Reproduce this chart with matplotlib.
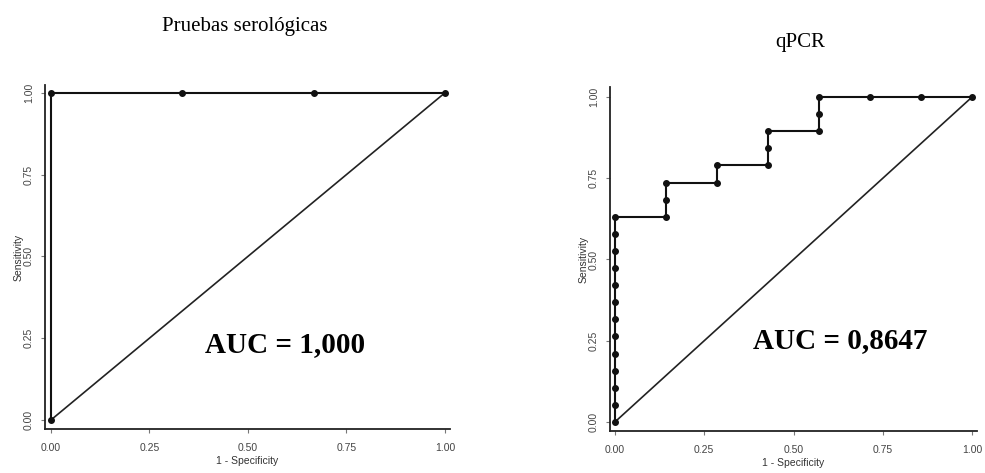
import matplotlib
matplotlib.use("Agg")
import matplotlib.pyplot as plt

# Pruebas serologicas ROC
sero_fpr = [0, 0, 1/3, 2/3, 1]
sero_tpr = [0, 1, 1, 1, 1]
sero_auc = "AUC = 1,000"

# qPCR ROC (7 negatives, 19 positives)
qpcr_fpr = [0]*13 + [1/7]*3 + [2/7]*2 + [3/7]*3 + [4/7]*3 + [5/7, 6/7, 1]
qpcr_tpr = ([i/19 for i in range(13)] + [12/19, 13/19, 14/19] + [14/19, 15/19]
            + [15/19, 16/19, 17/19] + [17/19, 18/19, 1] + [1, 1, 1])
qpcr_auc = "AUC = 0,8647"

ticks = [0, 0.25, 0.5, 0.75, 1.0]
ticklabels = ["0.00", "0.25", "0.50", "0.75", "1.00"]

W, H = 985, 473
fig = plt.figure(figsize=(W/100, H/100), dpi=100)

def make_ax(l, r, t, b, xlim, ylim):
    ax = fig.add_axes([l/W, (H-b)/H, (r-l)/W, (b-t)/H])
    ax.set_xlim(*xlim)
    ax.set_ylim(*ylim)
    for s in ["top", "right"]:
        ax.spines[s].set_visible(False)
    for s in ["left", "bottom"]:
        ax.spines[s].set_linewidth(1.3)
        ax.spines[s].set_color("#222222")
    ax.set_xticks(ticks)
    ax.set_xticklabels(ticklabels, fontsize=7.5, color="#444444", family="Liberation Sans")
    ax.set_yticks(ticks)
    ax.set_yticklabels(ticklabels, fontsize=7.5, color="#444444", family="Liberation Sans",
                       rotation=90, va="center")
    ax.tick_params(direction="out", length=3, width=0.8, color="#777777")
    ax.tick_params(axis="x", pad=7)
    ax.tick_params(axis="y", pad=5)
    ax.set_xlabel("1 - Specificity", fontsize=7.5, color="#333333", labelpad=2,
                  family="Liberation Sans")
    ax.set_ylabel("Sensitivity", fontsize=7.5, color="#333333", labelpad=0,
                  family="Liberation Sans")
    ax.plot([0, 1], [0, 1], color="#222222", lw=1.2)
    return ax

ax1 = make_ax(45, 450, 85, 429, (-0.015, 1.013), (-0.0275, 1.024))
ax1.plot(sero_fpr, sero_tpr, color="#111111", lw=1.5, marker="o", ms=4)
ax1.text(0.595, 0.23, sero_auc, fontsize=21, fontweight="bold", family="Liberation Serif",
         ha="center", va="center")
fig.text(245/W, 1 - 27/H, "Pruebas serológicas", fontsize=15, family="Liberation Serif",
         ha="center", va="center")

ax2 = make_ax(610, 977, 87, 431, (-0.014, 1.014), (-0.028, 1.031))
ax2.plot(qpcr_fpr, qpcr_tpr, color="#111111", lw=1.5, marker="o", ms=4)
ax2.text(0.63, 0.25, qpcr_auc, fontsize=21, fontweight="bold", family="Liberation Serif",
         ha="center", va="center")
fig.text(800/W, 1 - 42/H, "qPCR", fontsize=15, family="Liberation Serif",
         ha="center", va="center")

fig.savefig("out.png", dpi=100)
